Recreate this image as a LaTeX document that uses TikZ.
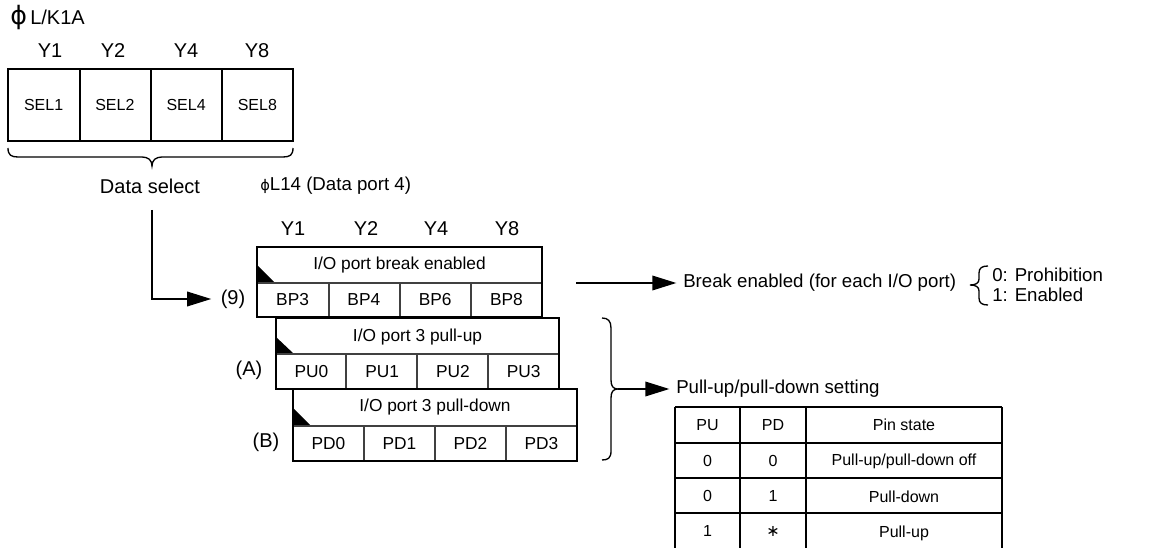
\documentclass[tikz,border=0pt]{standalone}
\usepackage{fontspec}
\setmainfont{Liberation Sans}
\newfontfamily\dejavu{DejaVu Sans}
\usetikzlibrary{arrows.meta}
\begin{document}
\begin{tikzpicture}[x=0.75pt,y=-0.75pt,
  lbl/.style={font=\fontsize{14}{16}\selectfont, inner sep=0pt},
  biglbl/.style={font=\fontsize{15}{17}\selectfont, inner sep=0pt},
  cell/.style={font=\fontsize{13}{15}\selectfont, inner sep=0pt},
  selcell/.style={font=\fontsize{12}{14}\selectfont, inner sep=0pt},
  tbl/.style={font=\fontsize{12}{14}\selectfont, inner sep=0pt},
  thinbox/.style={line width=1.2pt},
  outer/.style={line width=1.8pt},
  divl/.style={line width=0.8pt, draw=black!75},
  tblline/.style={line width=1.4pt},
  arr/.style={line width=1pt, -{Triangle[length=18pt,width=11pt]}},
  brc/.style={line width=1pt},
]
\useasboundingbox (0,0) rectangle (1149,548);

% ---- top register phiL/K1A
\node[biglbl, anchor=west] (title1) at (10,18) {{\dejavu\fontsize{19}{20}\selectfont ϕ}\,L/K1A};
\foreach \t/\x [count=\i] in {Y1/50,Y2/113,Y4/186,Y8/257}
  \node[biglbl] (ya\i) at (\x,51) {\t};
\draw[thinbox] (8,69) rectangle (293,141);
\foreach \x in {80,151,222} \draw[thinbox] (\x,69) -- (\x,141);
\foreach \t [count=\i] in {SEL1,SEL2,SEL4,SEL8}
  \node[selcell] (sel\i) at ({8+71.25*(\i-0.5)},105) {\t};
% brace
\draw[brc] (8,148) .. controls (8,155) and (11,157) .. (18,157) -- (142,157)
  .. controls (148,157) and (152,160) .. (152,166)
  .. controls (152,160) and (156,157) .. (162,157) -- (283,157)
  .. controls (290,157) and (293,155) .. (293,148);
\node[biglbl] (ds) at (150,186) {Data select};

% ---- data port 4
\node[lbl, anchor=west] (title2) at (260,186) {{\dejavu\fontsize{11}{13}\selectfont ϕ}L14 (Data port 4)};
\foreach \t/\x [count=\i] in {Y1/293,Y2/366,Y4/436,Y8/507}
  \node[biglbl] (yb\i) at (\x,229) {\t};

% box 1
\fill (257,265) -- (257,283) -- (275,283) -- cycle;
\draw[divl] (257,283) -- (542,283);
\foreach \x in {329,400,471} \draw[divl] (\x,283) -- (\x,317);
\draw[outer] (257,247) rectangle (542,317);
\node[cell] (h1) at (399.5,265) {I/O port break enabled};
\foreach \t [count=\i] in {BP3,BP4,BP6,BP8}
  \node[cell] (bp\i) at ({257+71.25*(\i-0.5)},300) {\t};

% box 2
\fill (276,337) -- (276,354) -- (294,354) -- cycle;
\draw[divl] (276,354) -- (559,354);
\foreach \x in {346,417,488} \draw[divl] (\x,354) -- (\x,389);
\draw[outer] (276,318) rectangle (559,389);
\node[cell] (h2) at (417.5,337) {I/O port 3 pull-up};
\foreach \t [count=\i] in {PU0,PU1,PU2,PU3}
  \node[cell] (pu\i) at ({276+70.75*(\i-0.5)},371.5) {\t};

% box 3
\fill (293,408) -- (293,426) -- (311,426) -- cycle;
\draw[divl] (293,426) -- (577,426);
\foreach \x in {364,435,506} \draw[divl] (\x,426) -- (\x,461);
\draw[outer] (293,389) rectangle (577,461);
\node[cell] (h3) at (435,407) {I/O port 3 pull-down};
\foreach \t [count=\i] in {PD0,PD1,PD2,PD3}
  \node[cell] (pd\i) at ({293+71*(\i-0.5)},443.5) {\t};

% side labels
\node[biglbl] (nine) at (233,299) {(9)};
\node[biglbl] (la) at (249,370) {(A)};
\node[biglbl] (lb) at (266,442) {(B)};

% data select arrow
\coordinate (dsa) at (152,210);
\draw[arr] (dsa) |- ([xshift=-7pt]nine.west);

% break enabled
\coordinate (bra) at (576,283);
\node[lbl, anchor=west] (brk) at (683,283) {Break enabled (for each I/O port)};
\draw[arr] (bra) -- ([xshift=-5pt]brk.west);
\draw[brc] (988,266) .. controls (982,266) and (979,268) .. (979,273) -- (979,279)
  .. controls (979,283) and (976,285) .. (970,285)
  .. controls (976,285) and (979,287) .. (979,291) -- (979,298)
  .. controls (979,303) and (982,305) .. (988,305);
\node[lbl, anchor=west] (p0) at (992,275) {0: Prohibition};
\node[lbl, anchor=west] (p1) at (992,295) {1: Enabled};

% pull-up / pull-down brace
\draw[brc] (602,318) .. controls (608,318) and (611,321) .. (611,328) -- (611,380)
  .. controls (611,386) and (613,389) .. (618,389)
  .. controls (613,389) and (611,392) .. (611,398) -- (611,451)
  .. controls (611,458) and (608,460) .. (602,460);
\coordinate (pbr) at (618,389);
\node[lbl, anchor=west] (pset) at (676,389) {Pull-up/pull-down setting};
\draw[arr] (pbr) -- ([xshift=-5pt]pset.west);

% table
\foreach \y in {407,443,478,513} \draw[tblline] (675,\y) -- (1002,\y);
\foreach \x in {675,740,806,1002} \draw[tblline] (\x,407) -- (\x,549);
\node[tbl] (t00) at (707.5,425) {PU};
\node[tbl] (t01) at (773,425) {PD};
\node[tbl] (t02) at (904,425) {Pin state};
\node[tbl] (t10) at (707.5,461) {0};
\node[tbl] (t11) at (773,461) {0};
\node[tbl] (t12) at (904,461) {Pull-up/pull-down off};
\node[tbl] (t20) at (707.5,496) {0};
\node[tbl] (t21) at (773,496) {1};
\node[tbl] (t22) at (904,497) {Pull-down};
\node[tbl] (t30) at (707.5,531) {1};
\node[tbl] (t31) at (773,531) {{\dejavu ∗}};
\node[tbl] (t32) at (904,533) {Pull-up};
\end{tikzpicture}
\end{document}
